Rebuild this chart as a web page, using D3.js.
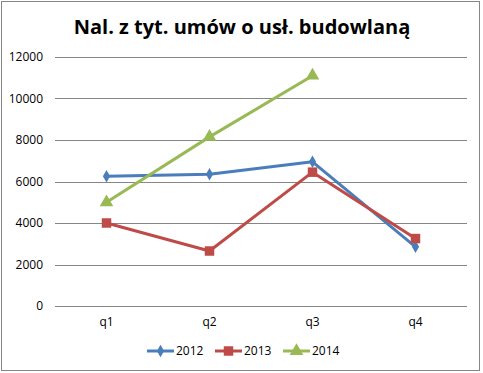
<!DOCTYPE html>
<html>
<head>
<meta charset="utf-8">
<script src="https://cdn.jsdelivr.net/npm/d3@7"></script>
<style>
  body { margin: 0; background: #fff; }
  svg text { font-family: "Open Sans", "DejaVu Sans", sans-serif; }
</style>
</head>
<body>
<div id="chart"></div>
<script>
var quarters = ['q1', 'q2', 'q3', 'q4'];
var seriesNames = ['2012', '2013', '2014'];
var values2012 = [6250, 6350, 6950, 2850];
var values2013 = [4000, 2650, 6450, 3250];
var values2014 = [5000, 8150, 11100, null];
var yTicks = [0, 2000, 4000, 6000, 8000, 10000, 12000];
var colors = ['#4a7ebb', '#be4b48', '#98b954'];

var width = 483, height = 373;
var svg = d3.select('#chart').append('svg')
    .attr('width', width).attr('height', height);

// outer frame
svg.append('rect')
    .attr('x', 1.5).attr('y', 1.5)
    .attr('width', 478).attr('height', 369)
    .attr('fill', '#fff').attr('stroke', '#868686');

svg.append('text')
    .attr('x', 242).attr('y', 34)
    .attr('text-anchor', 'middle')
    .style('font-size', '20px').style('font-weight', 'bold')
    .text('Nal. z tyt. umów o usł. budowlaną');

var x = d3.scaleBand().domain(quarters).range([55, 467]);
var y = d3.scaleLinear().domain([0, 12000]).range([306, 57]);

// gridlines
svg.selectAll('.grid')
    .data(yTicks)
    .enter().append('line')
    .attr('class', 'grid')
    .attr('x1', 55).attr('x2', 467)
    .attr('y1', function(d) { return Math.round(y(d)) + 0.5; })
    .attr('y2', function(d) { return Math.round(y(d)) + 0.5; })
    .attr('stroke', '#868686');

var yAxis = d3.axisLeft(y).tickValues(yTicks).tickSize(0).tickPadding(0)
    .tickFormat(d3.format('d'));
var gy = svg.append('g').attr('transform', 'translate(43,0)').call(yAxis);
gy.select('.domain').remove();
gy.selectAll('text').style('font-size', '12px').attr('fill', '#000');

var xAxis = d3.axisBottom(x).tickSize(0).tickPadding(0);
var gx = svg.append('g').attr('transform', 'translate(0,317)').call(xAxis);
gx.select('.domain').remove();
gx.selectAll('text').style('font-size', '12px').attr('fill', '#000');

var allSeries = [values2012, values2013, values2014];
var line = d3.line()
    .defined(function(d) { return d != null; })
    .x(function(d, i) { return x(quarters[i]) + x.bandwidth() / 2; })
    .y(function(d) { return y(d); });

var symbols = [d3.symbolDiamond, d3.symbolSquare, d3.symbolTriangle];
var symbolSizes = [45, 90, 80];

allSeries.forEach(function(vals, s) {
    svg.append('path')
        .datum(vals)
        .attr('d', line)
        .attr('fill', 'none')
        .attr('stroke', colors[s])
        .attr('stroke-width', 3)
        .attr('stroke-linejoin', 'round');

    svg.selectAll('.m' + s)
        .data(vals.filter(function(d) { return d != null; }))
        .enter().append('path')
        .attr('class', 'm' + s)
        .attr('transform', function(d, i) {
            return 'translate(' + (x(quarters[i]) + x.bandwidth() / 2) + ',' + y(d) + ')';
        })
        .attr('d', d3.symbol().type(symbols[s]).size(symbolSizes[s]))
        .attr('fill', colors[s]);
});

// legend
var legendX = [147, 215, 283];
var legend = svg.selectAll('.legend')
    .data(seriesNames)
    .enter().append('g')
    .attr('class', 'legend')
    .attr('transform', function(d, i) { return 'translate(' + legendX[i] + ',351)'; });

legend.append('line')
    .attr('x1', 0).attr('x2', 27)
    .attr('stroke', function(d, i) { return colors[i]; })
    .attr('stroke-width', 3);

legend.append('path')
    .attr('transform', 'translate(13.5,0)')
    .attr('d', function(d, i) { return d3.symbol().type(symbols[i]).size(symbolSizes[i])(); })
    .attr('fill', function(d, i) { return colors[i]; });

legend.append('text')
    .attr('x', 29).attr('y', 4)
    .style('font-size', '12px')
    .text(function(d) { return d; });
</script>
</body>
</html>
